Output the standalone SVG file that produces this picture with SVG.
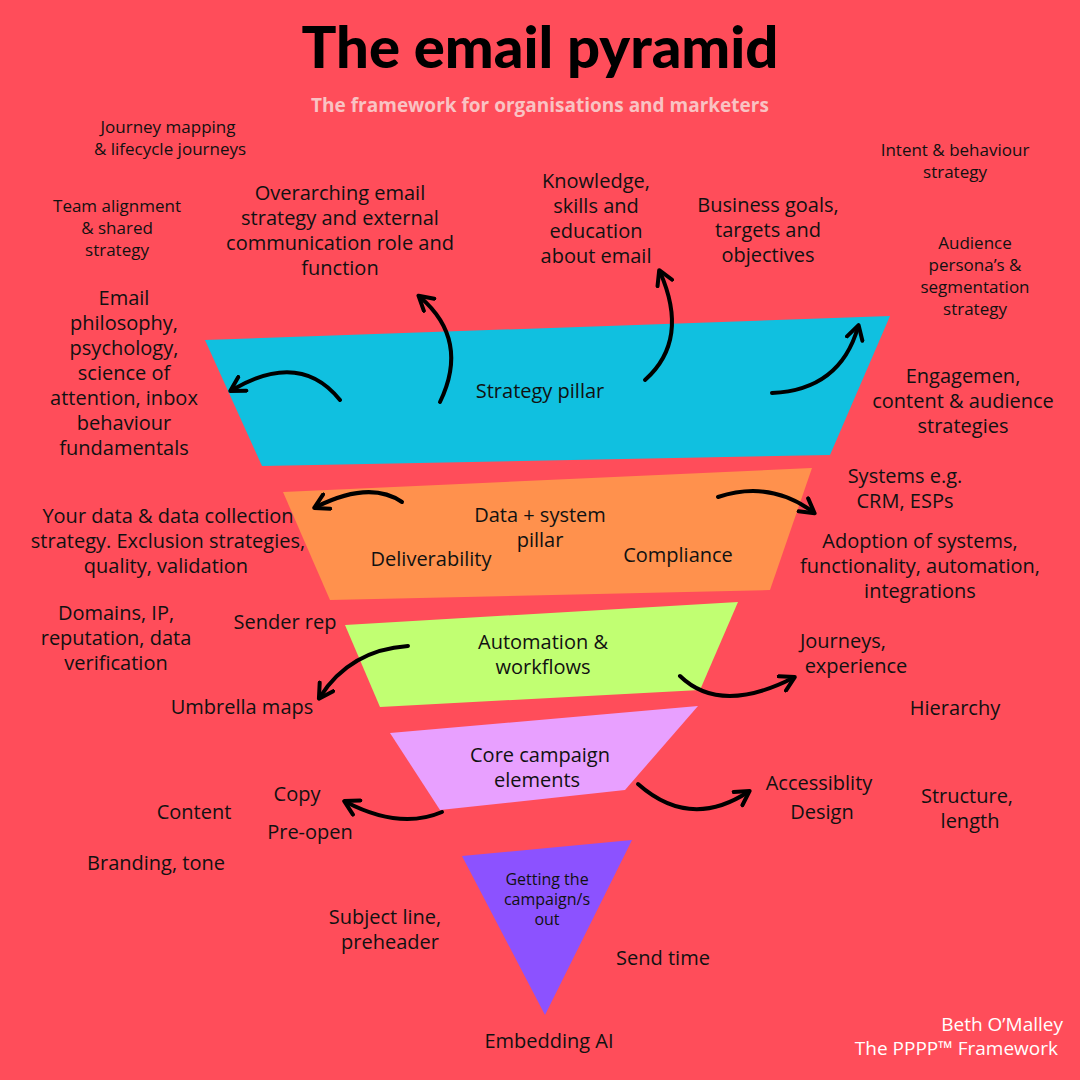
<svg xmlns="http://www.w3.org/2000/svg" width="1080" height="1080" viewBox="0 0 1080 1080">
<defs>
<marker id="ah" viewBox="0 0 10 10" refX="7" refY="5" markerWidth="5" markerHeight="5" orient="auto-start-reverse">
<path d="M1,1 L8,5 L1,9" fill="none" stroke="#000" stroke-width="2" stroke-linecap="round" stroke-linejoin="round"/>
</marker>
<style>
text{font-family:"Open Sans","Lato",sans-serif;fill:#111;text-anchor:middle;font-size:20px}
.s{font-size:17px}
.w{fill:#fff;text-anchor:end;font-size:19px}
.c path{fill:none;stroke:#000;stroke-width:4;stroke-linecap:round;marker-end:url(#ah)}
</style>
</defs>
<rect width="1080" height="1080" fill="#FF4D5A"/>
<text x="540" y="68" style="font-family:Lato,sans-serif;font-weight:900;font-size:58px;fill:#000">The email pyramid</text>
<text x="540" y="112" style="font-weight:700;font-size:19px;fill:#F9C3C3">The framework for organisations and marketers</text>

<g id="strategy"><polygon points="205,340 890,316 830,455 262,466" fill="#10C0E0"/><text x="540" y="398">Strategy pillar</text></g>
<g id="data"><polygon points="283,492 812,468 770,590 330,600" fill="#FF914D"/><text x="540" y="522">Data + system</text><text x="540" y="547">pillar</text><text x="431" y="566">Deliverability</text><text x="678" y="562">Compliance</text></g>
<g id="automation"><polygon points="345,625 738,602 700,690 380,707" fill="#C1FF72"/><text x="543" y="649">Automation &amp;</text><text x="543" y="674">workflows</text></g>
<g id="core"><polygon points="390,733 698,706 625,790 440,810" fill="#E8A0FF"/><text x="540" y="762">Core campaign</text><text x="537" y="787">elements</text></g>
<g id="getting"><polygon points="462,856 632,840 545,1015" fill="#8C52FF"/><text x="547" y="885" style="font-size:16px">Getting the</text><text x="547" y="905" style="font-size:16px">campaign/s</text><text x="547" y="925" style="font-size:16px">out</text></g>

<g class="c" id="connectors">
<path d="M340,400 Q300,350 232,390"/>
<path d="M440,402 Q470,340 420,297"/>
<path d="M645,380 Q690,340 660,272"/>
<path d="M772,393 Q840,390 858,327"/>
<path d="M402,502 Q370,480 316,507"/>
<path d="M718,497 Q770,480 813,512"/>
<path d="M408,646 Q350,650 320,697"/>
<path d="M680,676 Q720,715 793,678"/>
<path d="M442,812 Q400,830 346,802"/>
<path d="M638,784 Q690,830 748,792"/>
</g>

<g id="labels">
<text class="s" x="168" y="133">Journey mapping</text><text class="s" x="170" y="155">&amp; lifecycle journeys</text>
<text class="s" x="117" y="212">Team alignment</text><text class="s" x="117" y="234">&amp; shared</text><text class="s" x="117" y="256">strategy</text>
<text x="340" y="200">Overarching email</text><text x="340" y="225">strategy and external</text><text x="340" y="250">communication role and</text><text x="340" y="275">function</text>
<text x="596" y="188">Knowledge,</text><text x="596" y="213">skills and</text><text x="596" y="238">education</text><text x="596" y="263">about email</text>
<text x="768" y="212">Business goals,</text><text x="768" y="237">targets and</text><text x="768" y="262">objectives</text>
<text class="s" x="955" y="156">Intent &amp; behaviour</text><text class="s" x="955" y="178">strategy</text>
<text class="s" x="975" y="249">Audience</text><text class="s" x="975" y="271">persona’s &amp;</text><text class="s" x="975" y="293">segmentation</text><text class="s" x="975" y="315">strategy</text>
<text x="124" y="305">Email</text><text x="124" y="330">philosophy,</text><text x="124" y="355">psychology,</text><text x="124" y="380">science of</text><text x="124" y="405">attention, inbox</text><text x="124" y="430">behaviour</text><text x="124" y="455">fundamentals</text>
<text x="963" y="383">Engagemen,</text><text x="963" y="408">content &amp; audience</text><text x="963" y="433">strategies</text>
<text x="905" y="483">Systems e.g.</text><text x="905" y="508">CRM, ESPs</text>
<text x="168" y="523">Your data &amp; data collection</text><text x="168" y="548">strategy. Exclusion strategies,</text><text x="166" y="573">quality, validation</text>
<text x="920" y="548">Adoption of systems,</text><text x="920" y="573">functionality, automation,</text><text x="920" y="598">integrations</text>
<text x="116" y="620">Domains, IP,</text><text x="116" y="645">reputation, data</text><text x="116" y="670">verification</text>
<text x="285" y="629">Sender rep</text>
<text x="843" y="648">Journeys,</text><text x="856" y="673">experience</text>
<text x="242" y="714">Umbrella maps</text><text x="955" y="715">Hierarchy</text>
<text x="819" y="790">Accessiblity</text><text x="822" y="819">Design</text><text x="967" y="803">Structure,</text><text x="970" y="828">length</text>
<text x="297" y="801">Copy</text><text x="194" y="819">Content</text><text x="310" y="839">Pre-open</text><text x="156" y="870">Branding, tone</text>
<text x="385" y="924">Subject line,</text><text x="390" y="949">preheader</text><text x="663" y="965">Send time</text>
<text x="549" y="1048">Embedding AI</text>
<text class="w" x="1063" y="1031">Beth O’Malley</text><text class="w" x="1058" y="1055">The PPPP™ Framework</text>
</g>
</svg>
